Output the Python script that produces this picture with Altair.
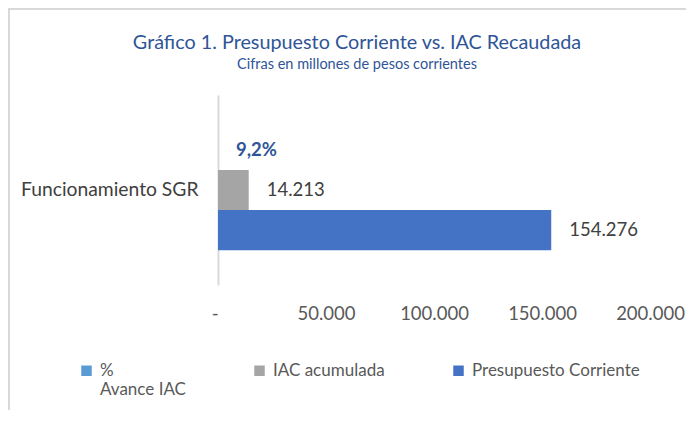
import altair as alt
import pandas as pd

# ---- data ----
categories = ["Funcionamiento SGR"]
series = ["% Avance IAC", "IAC acumulada", "Presupuesto Corriente"]
values = [0.092, 14213, 154276]
value_labels = ["9,2%", "14.213", "154.276"]
colors = ["#5B9BD5", "#A5A5A5", "#4472C4"]
x_ticks = [0, 50000, 100000, 150000, 200000]

df = pd.DataFrame({
    "categoria": categories * len(series),
    "serie": series,
    "valor": values,
    "etiqueta": value_labels,
})

FONT = "Lato"

base = alt.Chart(df).encode(
    y=alt.Y(
        "categoria:N",
        scale=alt.Scale(paddingOuter=0.29, paddingInner=0),
        axis=alt.Axis(title=None, ticks=False, domainColor="#D9D9D9", domainWidth=2,
                      labelFont=FONT, labelFontSize=19.3, labelColor="#404040",
                      labelPadding=20),
    ),
    yOffset=alt.YOffset("serie:N", sort=series,
                        scale=alt.Scale(domain=series, paddingInner=0, paddingOuter=0)),
)

bars = base.mark_bar().encode(
    x=alt.X(
        "valor:Q",
        scale=alt.Scale(domain=[0, 200000], nice=False),
        axis=alt.Axis(values=x_ticks, title=None, domain=False, ticks=False, grid=False,
                      labelFlush=False,
                      labelAlign={"condition": {"test": "datum.value === 0", "value": "right"},
                                  "value": "center"},
                      labelExpr="datum.value == 0 ? '-' : replace(format(datum.value, ',.0f'), ',', '.')",
                      labelFont=FONT, labelFontSize=18.5, labelColor="#595959", labelPadding=19),
    ),
    color=alt.Color(
        "serie:N", sort=series,
        scale=alt.Scale(domain=series, range=colors),
        legend=alt.Legend(
            title=None, orient="none", legendX=-140, legendY=267, direction="horizontal",
            symbolType="square", symbolSize=110, symbolStrokeWidth=0,
            labelFont=FONT, labelFontSize=17, labelColor="#595959", labelOffset=5,
            labelLimit=300, columnPadding=65, padding=0, labelBaseline="middle",
            labelExpr="datum.label == '% Avance IAC' ? ['%', 'Avance IAC'] : [datum.label, '']",
        ),
    ),
)

pct_text = base.transform_filter(alt.datum.serie == "% Avance IAC").mark_text(
    align="left", dx=18, font=FONT, fontSize=18.5, fontWeight="bold", color="#2F5597"
).encode(x="valor:Q", text="etiqueta:N")

val_text = base.transform_filter(alt.datum.serie != "% Avance IAC").mark_text(
    align="left", dx=18, font=FONT, fontSize=18.5, color="#404040"
).encode(x="valor:Q", text="etiqueta:N")

frame = alt.Chart(df).mark_rect(filled=False, stroke="#D9D9D9", strokeWidth=1.5).encode(
    x=alt.value(-209), x2=alt.value(700), y=alt.value(-86), y2=alt.value(400)
)

chart = alt.layer(frame, bars, pct_text, val_text).properties(
    width=432,
    height=190,
    background="white",
    padding={"left": 210, "top": 87, "right": 36, "bottom": 125},
    autosize=alt.AutoSizeParams(type="none"),
    title=alt.Title(
        "Gráfico 1. Presupuesto Corriente vs. IAC Recaudada",
        subtitle="Cifras en millones de pesos corrientes",
        anchor="middle", frame="group", dx=-77, offset=-63,
        font=FONT, fontSize=19.8, fontWeight="normal", color="#2F5597",
        subtitleFont=FONT, subtitleFontSize=14.5, subtitleColor="#2F5597", subtitlePadding=5,
    ),
).configure_view(stroke=None)

chart.save("out.html", embed_options={"renderer": "svg", "actions": False})
